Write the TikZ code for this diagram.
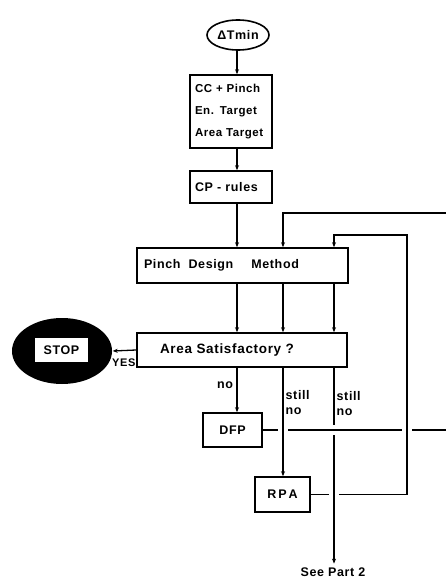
\documentclass[tikz,border=0pt]{standalone}
\usepackage{fontspec}
\setmainfont{Liberation Sans}[LetterSpace=5]
\usetikzlibrary{shapes.geometric,arrows.meta}

\begin{document}
\begin{tikzpicture}[x=1pt,y=-1pt,line width=1.3pt,
	font=\bfseries\fontsize{12.5}{15}\selectfont,
	box/.style={draw,line width=1.6pt,inner sep=0pt},
	flow/.style={-{Stealth[length=5pt,width=4pt]}},
	hop/.style={preaction={draw=white,line width=10pt}}]

	\useasboundingbox (0,0) rectangle (446,583);

	\coordinate (la) at (237,0);
	\coordinate (lb) at (283,0);
	\coordinate (lc) at (334,0);
	\coordinate (in1) at (446,213);
	\coordinate (out1) at (446,430);
	\coordinate (top2) at (407,235);

	\node[box,ellipse,minimum width=62pt,minimum height=30pt,inner sep=0pt] (dT) at (238,35) {ΔTmin};
	\node[box,text width=72pt,inner xsep=5pt,minimum height=73pt,align=left,
		font=\bfseries\fontsize{11.5}{22}\selectfont] (cc) at (231,111.5) {CC + Pinch\\En. Target\\Area Target};
	\node[box,text width=72pt,inner xsep=5pt,minimum height=32pt,align=left] (cp) at (231,187) {CP - rules};
	\node[box,text width=197pt,inner xsep=7pt,minimum height=35pt,align=left] (pdm) at (242.5,265.5) {Pinch\hspace{8pt}Design\hspace{18pt}Method};
	\node[box,text width=180pt,inner xsep=15pt,minimum height=34pt,align=left,
		font=\bfseries\fontsize{13.5}{15}\selectfont] (area) at (242,350) {\hspace{8pt}Area Satisfactory ?};
	\node[ellipse,fill=black,minimum width=100pt,minimum height=66pt] (stop) at (62,351) {};
	\node[fill=white,minimum width=53pt,minimum height=24pt,inner sep=0pt] (stoptxt) at (61.5,350) {STOP};
	\node[box,minimum width=59pt,minimum height=34pt] (dfp) at (232.5,430) {DFP};
	\node[box,minimum width=55pt,minimum height=35pt] (rpa) at (282.5,494.5) {R\kern2pt P\kern2pt A};
	\node (part2) at (333,572) {See Part 2};
	\node[anchor=north east,inner sep=0pt,font=\bfseries\fontsize{11}{13}\selectfont] (yes) at (136,358) {YES};

	\draw[flow] (la |- dT.south) -- (la |- cc.north);
	\draw[flow] (la |- cc.south) -- (la |- cp.north);
	\draw[flow] (la |- cp.south) -- (la |- pdm.north);
	\draw[flow] (in1) -| (lb |- pdm.north);
	\draw[flow] (rpa.east) -| (top2) -| (lc |- pdm.north);

	\draw[flow] (la |- pdm.south) -- (la |- area.north);
	\draw[flow] (lb |- pdm.south) -- (lb |- area.north);
	\draw[flow] (lc |- pdm.south) -- (lc |- area.north);

	\draw[flow] (area.west) -- (stop.east);
	\draw[flow] (la |- area.south) -- node[left,pos=0.4] (no1) {no} (la |- dfp.north);
	\draw[flow] (lb |- area.south) -- node[right,pos=0.32,align=left,inner sep=2pt] (no2) {still\\no} (lb |- rpa.north);
	\draw[flow] (lc |- area.south) -- node[right,pos=0.18,align=left,inner sep=2pt] (no3) {still\\no} (lc |- part2.north);
	\draw (dfp.east) -- (out1);

	\draw[hop] (283,423) -- (283,437);
	\draw[hop] (407,423) -- (407,437);
	\draw[hop] (327,430) -- (341,430);
	\draw[hop] (334,486) -- (334,500);

\end{tikzpicture}
\end{document}
